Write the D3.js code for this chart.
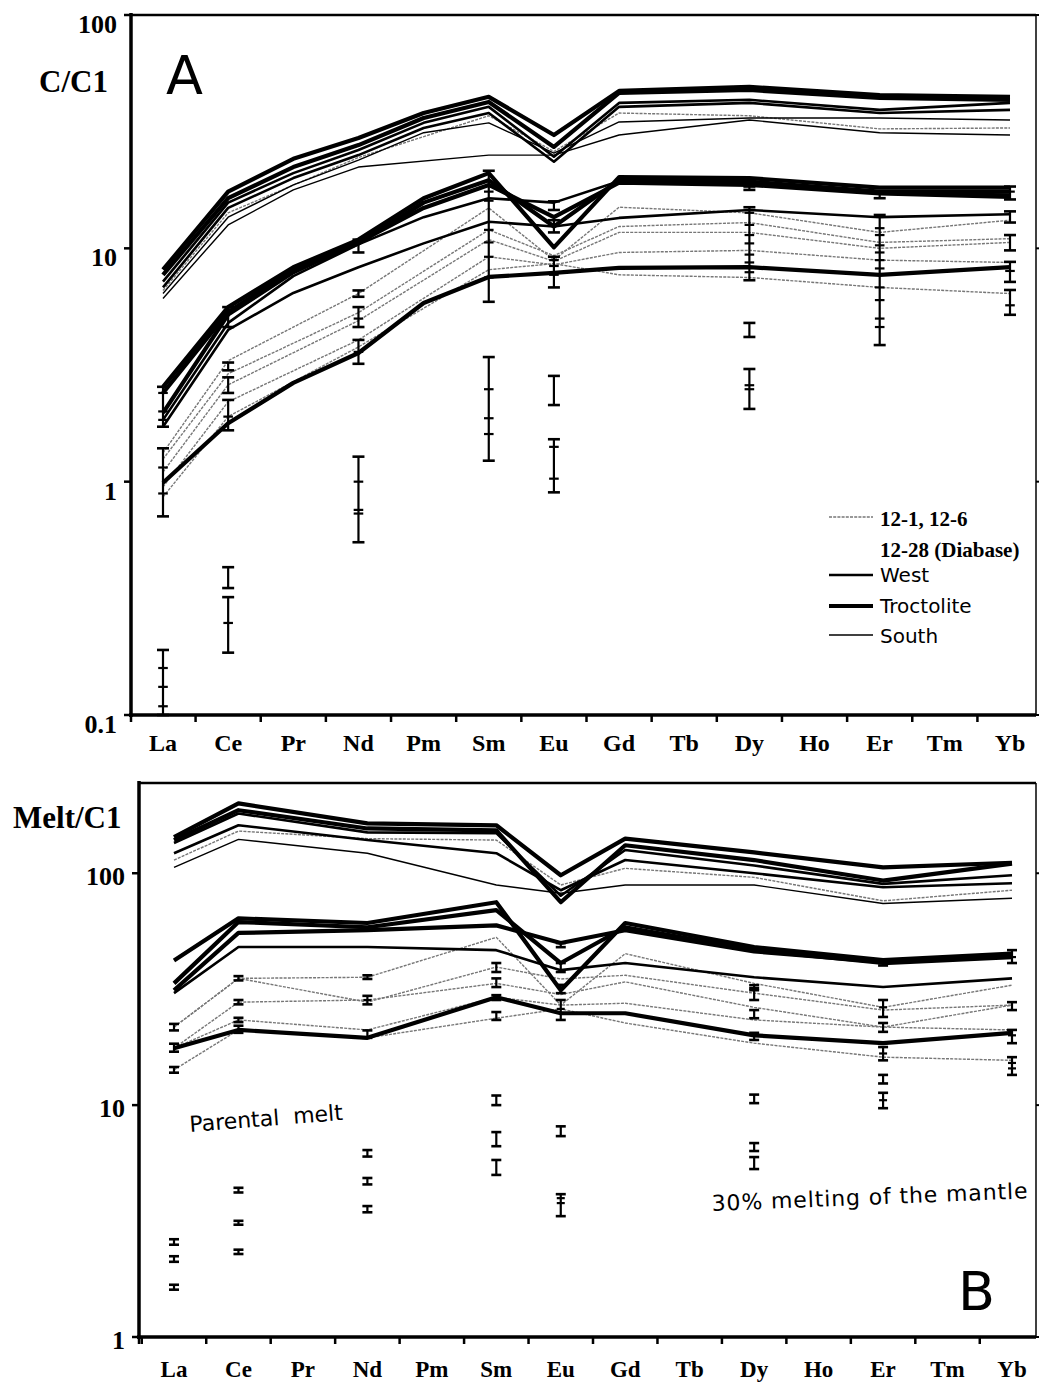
<!DOCTYPE html>
<html><head><meta charset="utf-8">
<script src="https://cdn.jsdelivr.net/npm/d3@7"></script>
<style>body{margin:0;background:#fff}</style>
</head><body>
<svg id="chart" width="1039" height="1384"></svg>
<script>
// ---------- DATA ----------
const elements = ["La","Ce","Pr","Nd","Pm","Sm","Eu","Gd","Tb","Dy","Ho","Er","Tm","Yb"];
const yTicksA = [0.1, 1, 10, 100];
const yTicksB = [1, 10, 100];
const legendItems = ["12-1, 12-6", "West", "Troctolite", "South"];

// Panel A: C/C1 (values per element, null = not analysed)
const aU1 = [8.1, 17.5, 24.2, 29.7, 38.0, 44.6, 30.6, 47.3, null, 49.2, null, 45.4, null, 44.6];
const aU2 = [7.7, 16.4, 22.3, 27.7, 36.2, 42.4, 27.2, 46.4, null, 47.7, null, 44.1, null, 43.3];
const aU3 = [7.2, 15.7, 21.0, 26.4, 34.5, 40.4, 24.7, 42.0, null, 43.3, null, 39.2, null, 42.0];
const aU4 = [6.8, 14.9, 20.0, 25.1, 32.8, 38.0, 23.5, 40.4, null, 42.0, null, 38.0, null, 39.2];
const aU5 = [6.4, 13.6, 18.7, 23.9, 31.3, 34.5, 25.6, 34.8, null, 36.2, null, 36.2, null, 35.5];
const aU6 = [6.6, 14.2, null, 24.5, null, 37.0, 26.0, 38.0, null, 37.0, null, 32.5, null, 32.8];
const aS  = [6.1, 12.6, 17.8, 22.3, null, 25.1, 25.1, 30.6, null, 35.5, null, 31.3, null, 30.6];
const aM1 = [2.55, 5.6, 8.3, 10.9, 16.4, 21.0, 10.1, 20.2, null, 20.0, null, 18.2, null, 18.2];
const aM2 = [2.4, 5.34, 8.07, 10.5, 15.7, 19.6, 12.4, 19.6, null, 19.3, null, 17.5, null, 17.5];
const aM3 = [1.97, 5.2, 7.9, 10.6, 14.9, 18.7, 13.6, 19.1, null, 18.7, null, 17.2, null, 16.6];
const aM4 = [1.84, 4.79, 7.6, 10.4, 13.6, 16.4, 15.7, 19.4, null, 19.0, null, 17.3, null, 17.0];
const aM5 = [1.72, 4.47, 6.44, 8.3, 10.5, 13.0, 12.4, 13.5, null, 14.6, null, 13.6, null, 14.0];
const aM6 = [0.99, 1.78, 2.65, 3.56, 5.83, 7.54, 7.85, 8.24, null, 8.3, null, 7.7, null, 8.3];
const aD1 = [1.33, 3.3, null, 6.4, null, 14.9, 8.9, 15.0, null, 14.2, null, 11.7, null, 13.2];
const aD2 = [1.25, 2.9, null, 5.3, null, 12.0, 9.3, 12.4, null, 12.9, null, 10.6, null, 11.0];
const aD3 = [1.1, 2.6, null, 4.9, null, 10.9, 8.8, 11.7, null, 11.7, null, 10.0, null, 10.6];
const aD4 = [0.95, 2.2, null, 4.05, null, 9.2, 8.5, 9.6, null, 9.8, null, 8.9, null, 8.7];
const aD5 = [0.86, 1.9, null, 3.78, null, 8.1, 8.6, 7.7, null, 7.5, null, 6.8, null, 6.4];

const seriesA = [
  {group:"12-1, 12-6", values:aD1},{group:"12-1, 12-6", values:aD2},{group:"12-1, 12-6", values:aD3},
  {group:"12-1, 12-6", values:aD4},{group:"12-1, 12-6", values:aD5},{group:"12-1, 12-6", values:aU6},
  {group:"South", values:aS},{group:"South", values:aU5},
  {group:"West", values:aU3},{group:"West", values:aU4},{group:"West", values:aM4},{group:"West", values:aM5},
  {group:"Troctolite", values:aU1},{group:"Troctolite", values:aU2},
  {group:"Troctolite", values:aM1},{group:"Troctolite", values:aM2},{group:"Troctolite", values:aM3},
  {group:"Troctolite", values:aM6}
];

const barsA = [
  {el:"La", lo:1.72, hi:2.55, mid:[2.4, 2.0, 1.84]},
  {el:"La", lo:0.71, hi:1.39, mid:[1.15, 0.89]},
  {el:"La", lo:0.10, hi:0.19, mid:[0.159, 0.132, 0.109]},
  {el:"Ce", lo:4.6, hi:5.6, mid:[5.3]},
  {el:"Ce", lo:3.0, hi:3.24, mid:[]},
  {el:"Ce", lo:2.4, hi:2.8, mid:[]},
  {el:"Ce", lo:1.66, hi:2.24, mid:[1.9]},
  {el:"Ce", lo:0.35, hi:0.43, mid:[]},
  {el:"Ce", lo:0.185, hi:0.32, mid:[0.248]},
  {el:"Nd", lo:9.6, hi:10.9, mid:[]},
  {el:"Nd", lo:6.2, hi:6.6, mid:[]},
  {el:"Nd", lo:4.6, hi:5.6, mid:[5.0]},
  {el:"Nd", lo:3.2, hi:4.05, mid:[3.6]},
  {el:"Nd", lo:0.55, hi:1.28, mid:[1.0, 0.757, 0.73]},
  {el:"Sm", lo:5.9, hi:21.5, mid:[17.5, 16.0, 12.0, 10.6, 9.2, 7.5]},
  {el:"Sm", lo:1.23, hi:3.42, mid:[2.49, 1.87, 1.6]},
  {el:"Eu", lo:14.6, hi:15.9, mid:[]},
  {el:"Eu", lo:11.7, hi:13.2, mid:[]},
  {el:"Eu", lo:6.8, hi:9.2, mid:[8.9, 8.4, 7.7]},
  {el:"Eu", lo:2.13, hi:2.84, mid:[]},
  {el:"Eu", lo:0.90, hi:1.52, mid:[1.41, 1.03]},
  {el:"Dy", lo:17.8, hi:18.4, mid:[]},
  {el:"Dy", lo:7.3, hi:15.0, mid:[14.2, 12.6, 11.4, 10.5, 9.4, 8.7, 7.9]},
  {el:"Dy", lo:4.17, hi:4.79, mid:[]},
  {el:"Dy", lo:2.05, hi:3.04, mid:[2.59, 2.49]},
  {el:"Er", lo:16.4, hi:17.5, mid:[]},
  {el:"Er", lo:3.85, hi:13.9, mid:[12.2, 11.4, 10.3, 9.6, 8.9, 8.2, 6.8, 6.0, 5.0, 4.6]},
  {el:"Yb", lo:16.2, hi:18.4, mid:[17.5]},
  {el:"Yb", lo:12.9, hi:14.4, mid:[]},
  {el:"Yb", lo:9.8, hi:11.4, mid:[]},
  {el:"Yb", lo:7.18, hi:8.75, mid:[8.0]},
  {el:"Yb", lo:5.19, hi:6.63, mid:[5.7]}
];

// Panel B: Melt/C1
const bU1 = [143, 200, null, 164, null, 161, 98, 141, null, 123, null, 106, null, 111];
const bU2 = [139, 187, null, 156, null, 153, 75, 132, null, 114, null, 93, null, 110];
const bU3 = [135, 181, null, 150, null, 149, 80, 126, null, 108, null, 90, null, 98];
const bU4 = [122, 161, null, 139, null, 122, 84.5, 114, null, 100, null, 87, null, 90.5];
const bU5 = [114, 152, null, 141, null, 139, 89, 105, null, 96, null, 76, null, 84.5];
const bS  = [106, 140, null, 122, null, 89, 82, 89, null, 89, null, 74, null, 78];
const bM1 = [42, 63.9, null, 61, null, 75, 31.3, 61, null, 48, null, 42.2, null, 45];
const bM2 = [33.5, 61.6, null, 58.5, null, 69.3, 41, 58.5, null, 46.6, null, 41, null, 43.5];
const bM3 = [31.3, 55.3, null, 56.8, null, 59.6, 50, 56.8, null, 46, null, 41.5, null, 44];
const bM4 = [30.4, 48.1, null, 48.1, null, 46.6, 38.2, 41, null, 35.6, null, 32.3, null, 35.2];
const bM5 = [17.6, 21.1, null, 19.5, null, 29.2, 24.9, 24.9, null, 20.0, null, 18.5, null, 20.5];
const bD1 = [21.7, 35.2, null, 35.6, null, 52.9, 27, 45, null, 33.5, null, 26.4, null, 32.9];
const bD2 = [21.7, 35.2, null, 27.8, null, 39.4, 35, 36.3, null, 30.4, null, 25.7, null, 27];
const bD3 = [17.6, 27.8, null, 28.4, null, 33.5, 30, 34, null, 26.4, null, 21.7, null, 27];
const bD4 = [17.6, 23.3, null, 21.1, null, 29.2, 27, 27.5, null, 23.3, null, 21.7, null, 21.1];
const bD5 = [14.2, 21.1, null, 19.5, null, 23.7, 26, 22.6, null, 18.5, null, 16.1, null, 15.6];

const seriesB = [
  {group:"12-1, 12-6", values:bD1},{group:"12-1, 12-6", values:bD2},{group:"12-1, 12-6", values:bD3},
  {group:"12-1, 12-6", values:bD4},{group:"12-1, 12-6", values:bD5},{group:"12-1, 12-6", values:bU5},
  {group:"South", values:bS},
  {group:"West", values:bU3},{group:"West", values:bU4},{group:"West", values:bM4},
  {group:"Troctolite", values:bU1},{group:"Troctolite", values:bU2},
  {group:"Troctolite", values:bM1},{group:"Troctolite", values:bM2},{group:"Troctolite", values:bM3},
  {group:"Troctolite", values:bM5}
];

const barsB = [
  {el:"La", lo:2.5, hi:2.64, mid:[]},{el:"La", lo:2.11, hi:2.23, mid:[]},{el:"La", lo:1.6, hi:1.68, mid:[]},
  {el:"La", lo:21, hi:22.4, mid:[]},{el:"La", lo:17, hi:18.4, mid:[]},{el:"La", lo:13.8, hi:14.6, mid:[]},
  {el:"Ce", lo:4.2, hi:4.4, mid:[]},{el:"Ce", lo:3.05, hi:3.17, mid:[]},{el:"Ce", lo:2.28, hi:2.38, mid:[]},
  {el:"Ce", lo:34.5, hi:36, mid:[]},{el:"Ce", lo:27.2, hi:28.4, mid:[]},{el:"Ce", lo:22.8, hi:23.8, mid:[]},{el:"Ce", lo:20.5, hi:22, mid:[]},
  {el:"Nd", lo:6.0, hi:6.4, mid:[]},{el:"Nd", lo:4.55, hi:4.85, mid:[]},{el:"Nd", lo:3.45, hi:3.67, mid:[]},
  {el:"Nd", lo:27.2, hi:29.6, mid:[28.4]},{el:"Nd", lo:19.5, hi:21, mid:[]},{el:"Nd", lo:35, hi:36.3, mid:[]},
  {el:"Sm", lo:10.0, hi:11.0, mid:[]},{el:"Sm", lo:6.65, hi:7.65, mid:[]},{el:"Sm", lo:5.0, hi:5.8, mid:[]},
  {el:"Sm", lo:37.5, hi:41, mid:[]},{el:"Sm", lo:32.3, hi:35.2, mid:[]},{el:"Sm", lo:28.4, hi:29.8, mid:[]},{el:"Sm", lo:23.3, hi:25.2, mid:[]},
  {el:"Eu", lo:7.35, hi:8.1, mid:[]},{el:"Eu", lo:3.32, hi:4.13, mid:[3.97, 3.78]},
  {el:"Eu", lo:48, hi:50, mid:[]},{el:"Eu", lo:37.5, hi:41, mid:[]},{el:"Eu", lo:30.4, hi:33, mid:[]},{el:"Eu", lo:23.3, hi:28.4, mid:[26]},
  {el:"Dy", lo:10.2, hi:11.1, mid:[]},{el:"Dy", lo:6.34, hi:6.86, mid:[]},{el:"Dy", lo:5.3, hi:5.97, mid:[]},
  {el:"Dy", lo:31.9, hi:32.9, mid:[]},{el:"Dy", lo:28.4, hi:31.3, mid:[]},{el:"Dy", lo:23.7, hi:25.7, mid:[]},{el:"Dy", lo:19.1, hi:20.5, mid:[]},
  {el:"Er", lo:12.4, hi:13.5, mid:[]},{el:"Er", lo:9.7, hi:11.3, mid:[10.5]},
  {el:"Er", lo:40, hi:42, mid:[]},{el:"Er", lo:24, hi:28.4, mid:[26.4]},{el:"Er", lo:20.7, hi:22.6, mid:[]},{el:"Er", lo:15.6, hi:17.8, mid:[16.7]},
  {el:"Yb", lo:41, hi:46.6, mid:[43.5]},{el:"Yb", lo:25.7, hi:27.8, mid:[]},{el:"Yb", lo:18.5, hi:21.1, mid:[20]},{el:"Yb", lo:13.5, hi:16.1, mid:[15.2, 14.4]}
];

// ---------- STYLES ----------
const styles = {
  "12-1, 12-6": {stroke:"#777", width:1.4, dash:"3,1.2"},
  "West": {stroke:"#000", width:2.6, dash:null},
  "Troctolite": {stroke:"#000", width:4.2, dash:null},
  "South": {stroke:"#000", width:1.4, dash:null}
};
const serif = "'Liberation Serif','Times New Roman',serif";
const sans = "'DejaVu Sans',Verdana,sans-serif";

const svg = d3.select("#chart");

function drawPanel(cfg) {
  const x = d3.scalePoint().domain(elements).range(cfg.xRange);
  const y = d3.scaleLog().domain(cfg.yDomain).range([cfg.bottom, cfg.top]);
  const g = svg.append("g");
  const step = x.step();

  // lines
  const line = d3.line().x(d => x(d.el)).y(d => y(d.v));
  cfg.series.forEach(s => {
    const pts = elements.map((e, i) => ({el:e, v:s.values[i]})).filter(d => d.v != null);
    const st = styles[s.group];
    g.append("path").attr("d", line(pts)).attr("fill", "none")
      .attr("stroke", st.stroke).attr("stroke-width", st.width)
      .attr("stroke-dasharray", st.dash).attr("stroke-linejoin", "round");
  });

  // error bars
  const cw = cfg.capW;
  cfg.bars.forEach(b => {
    const cx = x(b.el);
    const gb = g.append("g").attr("stroke", "#000").attr("stroke-width", 2.2);
    gb.append("line").attr("x1", cx).attr("x2", cx).attr("y1", y(b.lo)).attr("y2", y(b.hi));
    [b.lo, b.hi].forEach(v => gb.append("line").attr("x1", cx - cw/2).attr("x2", cx + cw/2).attr("y1", y(v)).attr("y2", y(v)).attr("stroke-width", 2.6));
    b.mid.forEach(v => gb.append("line").attr("x1", cx - cw*0.4).attr("x2", cx + cw*0.4).attr("y1", y(v)).attr("y2", y(v)));
  });

  // frame
  g.append("line").attr("x1", cfg.left).attr("x2", cfg.right).attr("y1", cfg.top).attr("y2", cfg.top).attr("stroke", "#000").attr("stroke-width", 2.5);
  g.append("line").attr("x1", cfg.right).attr("x2", cfg.right).attr("y1", cfg.top).attr("y2", cfg.bottom).attr("stroke", "#000").attr("stroke-width", 1.5);

  // x axis
  const xAxis = d3.axisBottom(x).tickSize(0).tickFormat("");
  const xa = g.append("g").attr("transform", `translate(0,${cfg.bottom})`).call(xAxis);
  xa.select(".domain").remove();
  g.append("line").attr("x1", cfg.left - 2).attr("x2", cfg.right).attr("y1", cfg.bottom).attr("y2", cfg.bottom).attr("stroke", "#000").attr("stroke-width", 3.5);
  elements.forEach(e => {
    const tx = x(e) - step/2;
    if (tx > cfg.left + 2) g.append("line").attr("x1", tx).attr("x2", tx).attr("y1", cfg.bottom).attr("y2", cfg.bottom + 7).attr("stroke", "#000").attr("stroke-width", 2.5);
    g.append("text").attr("x", x(e)).attr("y", cfg.labelY).attr("text-anchor", "middle")
      .attr("font-family", serif).attr("font-weight", "bold").attr("font-size", cfg.labelSize).text(e);
  });
  g.append("line").attr("x1", cfg.left).attr("x2", cfg.left).attr("y1", cfg.bottom).attr("y2", cfg.bottom + 7).attr("stroke", "#000").attr("stroke-width", 2.5);

  // y axis
  const yAxis = d3.axisLeft(y).tickValues(cfg.yTicks).tickSize(0).tickFormat("");
  const ya = g.append("g").attr("transform", `translate(${cfg.left},0)`).call(yAxis);
  ya.select(".domain").remove();
  g.append("line").attr("x1", cfg.left).attr("x2", cfg.left).attr("y1", cfg.top - 2).attr("y2", cfg.bottom + 2).attr("stroke", "#000").attr("stroke-width", 3.5);
  cfg.yTicks.forEach(v => {
    g.append("line").attr("x1", cfg.left - 7).attr("x2", cfg.left).attr("y1", y(v)).attr("y2", y(v)).attr("stroke", "#000").attr("stroke-width", 2.5);
    g.append("line").attr("x1", cfg.right).attr("x2", cfg.right + 6).attr("y1", y(v)).attr("y2", y(v)).attr("stroke", "#000").attr("stroke-width", 2);
    g.append("text").attr("x", cfg.left - 14).attr("y", y(v) + cfg.yLabelDy).attr("text-anchor", "end")
      .attr("font-family", serif).attr("font-weight", "bold").attr("font-size", 26).text(d3.format("~g")(v));
  });
  return {x, y, g};
}

drawPanel({
  xRange:[163, 1010], yDomain:[0.1, 100], top:15, bottom:715, left:131, right:1036,
  series:seriesA, bars:barsA, capW:12, yTicks:yTicksA, labelY:751, labelSize:24, yLabelDy:18
});
drawPanel({
  xRange:[174, 1012], yDomain:[1, 245], top:783, bottom:1337, left:139, right:1036,
  series:seriesB, bars:barsB, capW:10, yTicks:yTicksB, labelY:1377, labelSize:23, yLabelDy:12
});

// axis titles & panel letters
svg.append("text").attr("x", 39).attr("y", 92).attr("font-family", serif).attr("font-weight", "bold").attr("font-size", 31).text("C/C1");
svg.append("text").attr("x", 13).attr("y", 828).attr("font-family", serif).attr("font-weight", "bold").attr("font-size", 31).text("Melt/C1");
svg.append("text").attr("x", 166).attr("y", 94).attr("font-family", sans).attr("font-size", 54).text("A");
svg.append("text").attr("x", 958).attr("y", 1310).attr("font-family", sans).attr("font-size", 54).text("B");

// annotations in panel B
svg.append("text").attr("transform", "translate(190,1132) rotate(-4.5)").attr("font-family", sans).attr("font-size", 22)
  .attr("xml:space", "preserve").text("Parental  melt");
svg.append("text").attr("transform", "translate(712,1211) rotate(-2.3)").attr("font-family", sans).attr("font-size", 22)
  .attr("textLength", 316).text("30% melting of the mantle");

// legend (panel A)
const lg = svg.append("g");
const legendRows = [
  {group:legendItems[0], y:517, text:"12-1, 12-6", font:serif, bold:true, ty:526},
  {group:null, y:548, text:"12-28 (Diabase)", font:serif, bold:true, ty:557},
  {group:legendItems[1], y:575, text:"West", font:sans, bold:false, ty:582},
  {group:legendItems[2], y:606, text:"Troctolite", font:sans, bold:false, ty:613},
  {group:legendItems[3], y:635, text:"South", font:sans, bold:false, ty:643}
];
legendRows.forEach(r => {
  if (r.group) {
    const st = styles[r.group];
    lg.append("line").attr("x1", 829).attr("x2", 873).attr("y1", r.y).attr("y2", r.y)
      .attr("stroke", st.stroke).attr("stroke-width", st.width).attr("stroke-dasharray", st.dash);
  }
  lg.append("text").attr("x", 880).attr("y", r.ty).attr("font-family", r.font)
    .attr("font-weight", r.bold ? "bold" : "normal").attr("font-size", r.bold ? 21 : 20).text(r.text);
});
</script>
</body></html>
